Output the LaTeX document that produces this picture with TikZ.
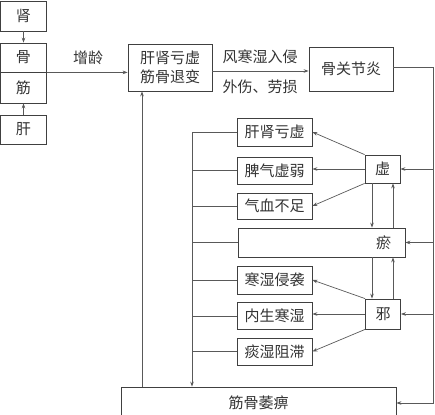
\documentclass[tikz,border=0pt]{standalone}
\usepackage{fontspec}
\newfontfamily\cjk{Noto Sans CJK SC}
\usetikzlibrary{arrows.meta}
\begin{document}
\begin{tikzpicture}[x=1pt, y=-1pt,
  every node/.style={font=\cjk\fontsize{15}{19}\selectfont, text=black!80, inner sep=0pt},
  box/.style={draw=black!75, line width=0.8pt},
  line/.style={draw=black!65, line width=0.7pt},
  arr/.style={line, -{Stealth[length=5pt, width=3.6pt]}}]
\useasboundingbox (0,0) rectangle (435,414);
% left column
\node[box, minimum width=46, minimum height=30] (shen) at (23.5,16){肾};
\node[box, minimum width=46, minimum height=29] (gu) at (23.5,57.5){骨};
\node[box, minimum width=46, minimum height=31] (jin) at (23.5,87.5){筋};
\node[box, minimum width=46, minimum height=29] (gan) at (23.5,129.5){肝};
\draw[arr](shen) -- (gu);
\draw[arr](gan) -- (jin);
% top row
\node[box, minimum width=84, minimum height=47, align=center] (tuibian) at (170,67.5){肝肾亏虚\\筋骨退变};
\node[box, minimum width=84, minimum height=44] (gyj) at (351,69){骨关节炎};
\node (zengling) at (88,58){增龄};
\node (waixie) at (260,57){风寒湿入侵};
\node (laosun) at (260,87){外伤、劳损};
\draw[arr](gu.south east) -- (gu.south east -| tuibian.west);
\draw[arr](tuibian.east |- 0,71) -- (gyj.west |- 0,71);
% causes
\node[box, minimum width=75, minimum height=28] (gsky) at (274.5,132){肝肾亏虚};
\node[box, minimum width=75, minimum height=27] (pqxr) at (274.5,170.5){脾气虚弱};
\node[box, minimum width=75, minimum height=26] (qxbz) at (274.5,206){气血不足};
\node[box, minimum width=167, minimum height=29, text width=139, align=right, inner xsep=14] (yu) at (321.5,242.5){瘀};
\node[box, minimum width=75, minimum height=28] (hsqx) at (274.5,280){寒湿侵袭};
\node[box, minimum width=75, minimum height=27] (nshs) at (274.5,316){内生寒湿};
\node[box, minimum width=75, minimum height=27] (tszz) at (274.5,351.5){痰湿阻滞};
\node[box, minimum width=35, minimum height=28] (xu) at (382.5,169){虚};
\node[box, minimum width=35, minimum height=30] (xie) at (383,314){邪};
\node[box, minimum width=275, minimum height=32] (wb) at (258.5,403){筋骨萎痹};
\draw[arr](xu.north west) -- (gsky.east);
\draw[arr](xu.west) -- (xu.west -| pqxr.east);
\draw[arr](xu.south west) -- (qxbz.east);
\draw[arr](xie.north west) -- (hsqx.east);
\draw[arr](xie.west) -- (xie.west -| nshs.east);
\draw[arr](xie.south west) -- (tszz.east);
\coordinate (dn) at (372,0);
\coordinate (up) at (393,0);
\draw[arr](dn |- xu.south) -- (dn |- yu.north);
\draw[arr](up |- yu.north) -- (up |- xu.south);
\draw[arr](dn |- yu.south) -- (dn |- xie.north);
\draw[arr](up |- xie.north) -- (up |- yu.south);
% left bus
\coordinate (lbus) at (192,0);
\draw[arr](gsky.west) -| (lbus |- wb.north);
\draw[line](pqxr.west) -- (pqxr.west -| lbus);
\draw[line](qxbz.west) -- (qxbz.west -| lbus);
\draw[line](yu.west) -- (yu.west -| lbus);
\draw[line](hsqx.west) -- (hsqx.west -| lbus);
\draw[line](nshs.west) -- (nshs.west -| lbus);
\draw[line](tszz.west) -- (tszz.west -| lbus);
% right bus
\coordinate (rbus) at (433,67);
\draw[arr](gyj.east |- rbus) -- (rbus) |- (wb.east);
\draw[arr](rbus |- xu.east) -- (xu.east);
\draw[arr](rbus |- yu.east) -- (yu.east);
\draw[arr](rbus |- xie.east) -- (xie.east);
% back to top
\coordinate (back) at (142,0);
\draw[arr](back |- wb.north) -- (back |- tuibian.south);
\end{tikzpicture}
\end{document}
